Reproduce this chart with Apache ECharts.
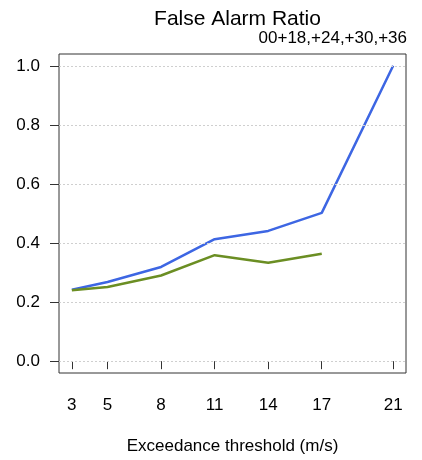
<!DOCTYPE html>
<html>
<head>
<meta charset="utf-8">
<script src="https://cdn.jsdelivr.net/npm/echarts@6/dist/echarts.min.js"></script>
<style>html,body{margin:0;padding:0;background:#fff}#c{width:422px;height:460px}</style>
</head>
<body>
<div id="c"></div>
<script>
const thresholds = [3, 5, 8, 11, 14, 17, 21];
const yTicks = [0, 0.2, 0.4, 0.6, 0.8, 1.0];
const farBlue = [0.242, 0.268, 0.319, 0.413, 0.441, 0.502, 1.0];
const farGreen = [0.240, 0.251, 0.290, 0.359, 0.333, 0.364];
const titleText = 'False Alarm Ratio';
const subText = '00+18,+24,+30,+36';
const xName = 'Exceedance threshold (m/s)';

const FONT = 'Liberation Sans, Arial, Helvetica, sans-serif';
const chart = echarts.init(document.getElementById('c'), null, {renderer: 'canvas'});
const toPairs = (vals) => vals.map((v, i) => [thresholds[i], v]);

chart.setOption({
  animation: false,
  backgroundColor: '#fff',
  title: [
    {text: titleText, left: 232.5, textAlign: 'center', top: 4,
     textStyle: {fontFamily: FONT, fontSize: 21, fontWeight: 'normal', color: '#000'}},
    {text: subText, right: 15, top: 30, padding: 0,
     textStyle: {fontFamily: FONT, fontSize: 17, fontWeight: 'normal', color: '#000'}}
  ],
  grid: {left: 59, right: 16, top: 54, bottom: 85, show: true, borderColor: '#333', borderWidth: 1, backgroundColor: 'transparent'},
  xAxis: {
    type: 'value', min: 2.28, max: 21.72, offset: 2,
    axisLine: {show: false},
    axisTick: {show: true, length: 8, customValues: thresholds, lineStyle: {color: '#333'}},
    axisLabel: {customValues: thresholds, margin: 22, fontFamily: FONT, fontSize: 17, color: '#000'},
    splitLine: {show: false},
    name: xName, nameLocation: 'middle', nameGap: 63,
    nameTextStyle: {fontFamily: FONT, fontSize: 17, color: '#000'}
  },
  yAxis: {
    type: 'value', min: -0.04, max: 1.04,
    axisLine: {show: false},
    axisTick: {show: true, length: 9, customValues: yTicks, lineStyle: {color: '#333'}},
    axisLabel: {customValues: yTicks, margin: 19, fontFamily: FONT, fontSize: 17, color: '#000',
      formatter: v => v.toFixed(1)},
    splitLine: {show: false}
  },
  series: [
    {type: 'line', data: [], z: 1, silent: true,
     markLine: {silent: true, symbol: 'none', label: {show: false}, animation: false,
       lineStyle: {color: '#cfcfcf', type: [2, 2], width: 1},
       data: yTicks.map(v => ({yAxis: v}))}},
    {type: 'line', data: toPairs(farBlue), symbol: 'none', z: 3,
     lineStyle: {color: '#3d66e3', width: 2.5}, itemStyle: {color: '#3d66e3'}},
    {type: 'line', data: toPairs(farGreen), symbol: 'none', z: 3,
     lineStyle: {color: '#6B8E23', width: 2.5}, itemStyle: {color: '#6B8E23'}}
  ]
});
</script>
</body>
</html>
